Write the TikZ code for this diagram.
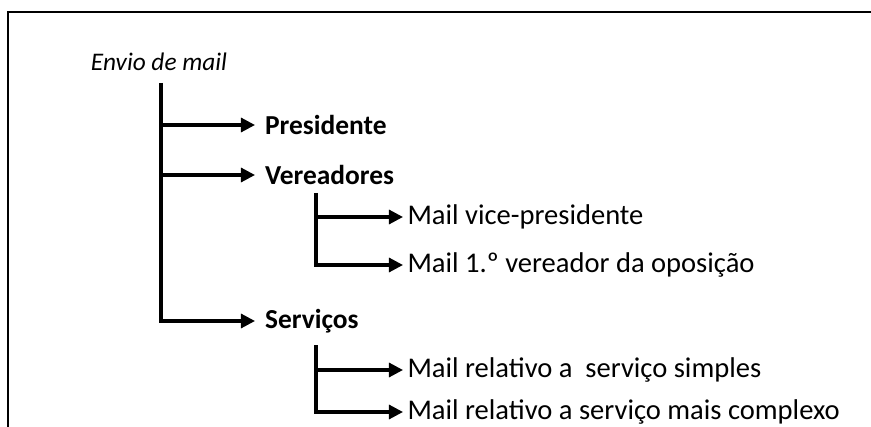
\documentclass[tikz,border=0pt]{standalone}
\usepackage{fontspec}
\setmainfont{Carlito}
\usetikzlibrary{arrows.meta}
\tikzset{
  branch/.style={line width=2.2pt,-{Triangle[length=10pt,width=10pt]}},
  item/.style={anchor=west,inner xsep=7pt,inner ysep=0pt,font=\fontsize{19.5}{22}\selectfont\bfseries},
  subitem/.style={anchor=west,inner xsep=3pt,inner ysep=0pt,font=\fontsize{20.3}{23}\selectfont},
}
\begin{document}
\begin{tikzpicture}[x=0.025cm,y=-0.025cm]
  \useasboundingbox (0,0) rectangle (871,427);
  \draw[line width=1.1pt] (8,427)--(8,12)--(871,12); % frame
  \node[font=\fontsize{18}{21}\selectfont\itshape] (title) at (159,62) {Envio de mail};
  \coordinate (trunk) at (161,83);
  \coordinate (subver) at (316,193);
  \coordinate (subserv) at (316,345);

  \node[item] (pres) at (255,125) {Presidente};
  \node[item] (ver) at (255,175) {Vereadores};
  \node[item] (serv) at (255,321) {Serviços};
  \node[subitem] (vice) at (403,217) {Mail vice-presidente};
  \node[subitem] (opos) at (403,265) {Mail 1.º vereador da oposição};
  \node[subitem] (simples) at (403,370) {Mail relativo a~ serviço simples};
  \node[subitem] (complexo) at (403,412) {Mail relativo a serviço mais complexo};

  \draw[branch] (trunk) |- (serv.west); % main
  \draw[branch] (trunk |- pres.west) -- (pres.west);
  \draw[branch] (trunk |- ver.west) -- (ver.west);
  \draw[branch] (subver) |- (opos.west); % vereadores
  \draw[branch] (subver |- vice.west) -- (vice.west);
  \draw[branch] (subserv) |- (complexo.west); % servicos
  \draw[branch] (subserv |- simples.west) -- (simples.west);
\end{tikzpicture}
\end{document}
